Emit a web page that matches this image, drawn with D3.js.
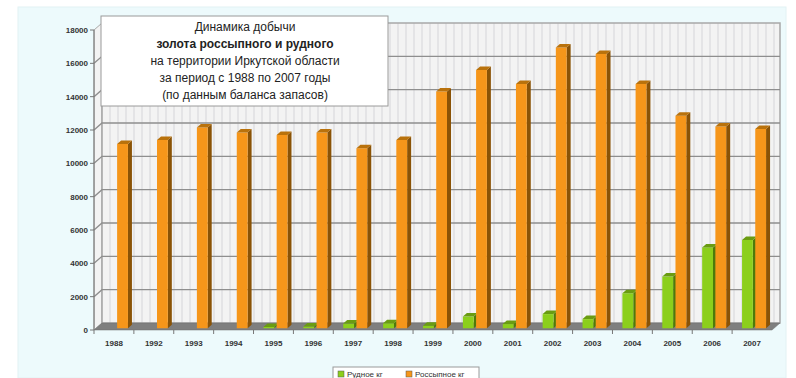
<!DOCTYPE html>
<html>
<head>
<meta charset="utf-8">
<script src="https://cdn.jsdelivr.net/npm/d3@7"></script>
<style>
  body { margin: 0; background: #fff; }
  text { font-family: "Liberation Sans", Arial, sans-serif; }
</style>
</head>
<body>
<script>
const width = 796;
const height = 378;

// data
const years = ["1988","1992","1993","1994","1995","1996","1997","1998","1999","2000","2001","2002","2003","2004","2005","2006","2007"];
const ore = [0, 0, 0, 0, 80, 100, 280, 300, 150, 700, 250, 850, 550, 2100, 3100, 4850, 5300];
const placer = [11050, 11300, 12050, 11750, 11600, 11750, 10800, 11300, 14200, 15500, 14650, 16850, 16450, 14650, 12750, 12100, 11950];
const yTicks = [0, 2000, 4000, 6000, 8000, 10000, 12000, 14000, 16000, 18000];
const seriesNames = ["Рудное кг", "Россыпное кг"];
const titleLines = ["Динамика добычи", "золота россыпного и рудного", "на территории Иркутской области", "за период с 1988 по 2007 годы", "(по данным баланса запасов)"];

const svg = d3.select("body").append("svg")
  .attr("width", width)
  .attr("height", height);

// depth of the 3d box
const DX = 8, DY = 7;
const x0 = 94, x1 = 772;

const x = d3.scaleBand().domain(years).range([x0, x1]);
const y = d3.scaleLinear().domain([0, 18000]).range([330, 30]);
const inner = d3.scaleBand().domain([0, 1]).range([-12, 12]).paddingInner(0.18);

// project point at depth z (0 = front, 1 = back)
const P = (px, py, z) => [px + DX * z, py - DY * z];
const poly = pts => "M" + pts.map(p => p.join(",")).join("L") + "Z";

// outer background
svg.append("rect")
  .attr("x", 18).attr("y", 7).attr("width", 768).attr("height", 371)
  .attr("fill", "#edfafc").attr("stroke", "#e2f2f4");

const defs = svg.append("defs");
const pat = defs.append("pattern")
  .attr("id", "stripes").attr("patternUnits", "userSpaceOnUse")
  .attr("width", 8).attr("height", 8);
pat.append("rect").attr("width", 8).attr("height", 8).attr("fill", "#f3f3f3");
pat.append("rect").attr("x", 5).attr("width", 2).attr("height", 8).attr("fill", "#e4e4e6");

// side wall
svg.append("path")
  .attr("d", poly([P(x0, y(18000), 0), P(x0, y(18000), 1), P(x0, y(0), 1), P(x0, y(0), 0)]))
  .attr("fill", "url(#stripes)").attr("stroke", "#a8a8a8");

// back wall
svg.append("path")
  .attr("d", poly([P(x0, y(18000), 1), P(x1, y(18000), 1), P(x1, y(0), 1), P(x0, y(0), 1)]))
  .attr("fill", "url(#stripes)").attr("stroke", "#a8a8a8").attr("stroke-width", 1.5);

// gridlines
const grid = svg.append("g");
yTicks.slice(1, -1).forEach(t => {
  const a = P(x0, y(t), 0), b = P(x0, y(t), 1), c = P(x1, y(t), 1);
  grid.append("path")
    .attr("d", "M" + a + "L" + b + "L" + c)
    .attr("fill", "none").attr("stroke", "#8e8e8e").attr("stroke-width", 1.4);
});

// floor
svg.append("path")
  .attr("d", poly([P(x0, y(0), 0), P(x1, y(0), 0), P(x1, y(0), 1), P(x0, y(0), 1)]))
  .attr("fill", "#7f7f7f").attr("stroke", "#6e6e6e").attr("stroke-width", 0.5);

// bars
const styles = [
  { front: "#8ccf1c", side: "#4e7a0a", top: "#6a9c12" },
  { front: "#f6961a", side: "#8a5306", top: "#b9720c" }
];
const z0 = 0.25, z1 = 0.75;

const bars = [];
years.forEach((yr, i) => {
  [ore[i], placer[i]].forEach((v, s) => bars.push({ yr, v, s }));
});

const gBars = svg.append("g");
bars.forEach(d => {
  if (d.v <= 0) return;
  const c = x(d.yr) + x.bandwidth() / 2;
  const l = c + inner(d.s), r = l + inner.bandwidth();
  const yt = y(d.v), yb = y(0);
  const st = styles[d.s];
  const g = gBars.append("g");
  // side
  g.append("path")
    .attr("d", poly([P(r, yt, z0), P(r, yt, z1), P(r, yb, z1), P(r, yb, z0)]))
    .attr("fill", st.side);
  // front
  g.append("path")
    .attr("d", poly([P(l, yt, z0), P(r, yt, z0), P(r, yb, z0), P(l, yb, z0)]))
    .attr("fill", st.front);
  // top
  g.append("path")
    .attr("d", poly([P(l, yt, z0), P(r, yt, z0), P(r, yt, z1), P(l, yt, z1)]))
    .attr("fill", st.top);
});

// y axis
svg.append("line")
  .attr("x1", x0).attr("x2", x0).attr("y1", y(18000)).attr("y2", y(0))
  .attr("stroke", "#777");
const yAxis = svg.append("g");
yTicks.forEach(t => {
  yAxis.append("line")
    .attr("x1", x0 - 4).attr("x2", x0).attr("y1", y(t)).attr("y2", y(t))
    .attr("stroke", "#777");
  yAxis.append("text")
    .attr("x", x0 - 6).attr("y", y(t) + 3)
    .attr("text-anchor", "end")
    .attr("font-size", 8).attr("font-weight", "bold").attr("fill", "#333")
    .text(t);
});

// x axis ticks and labels
const xAxis = svg.append("g");
years.forEach(yr => {
  const bx = x(yr);
  xAxis.append("line")
    .attr("x1", bx).attr("x2", bx).attr("y1", y(0)).attr("y2", y(0) + 4)
    .attr("stroke", "#777");
  xAxis.append("text")
    .attr("x", bx + x.bandwidth() / 2).attr("y", 346)
    .attr("text-anchor", "middle")
    .attr("font-size", 8).attr("font-weight", "bold").attr("fill", "#333")
    .text(yr);
});

// title box
svg.append("rect")
  .attr("x", 101).attr("y", 16).attr("width", 287).attr("height", 90)
  .attr("fill", "#fff").attr("stroke", "#9a9a9a");
titleLines.forEach((t, i) => {
  svg.append("text")
    .attr("x", 245).attr("y", 31 + i * 17)
    .attr("text-anchor", "middle")
    .attr("font-size", 12)
    .attr("font-weight", i === 1 ? "bold" : "normal")
    .attr("fill", "#222")
    .text(t);
});

// legend
const leg = svg.append("g").attr("transform", "translate(333,367)");
leg.append("rect").attr("width", 146).attr("height", 16)
  .attr("fill", "#fff").attr("stroke", "#9a9a9a");
seriesNames.forEach((n, i) => {
  const gx = 5 + i * 68;
  leg.append("rect").attr("x", gx).attr("y", 4).attr("width", 6).attr("height", 6)
    .attr("fill", styles[i].front).attr("stroke", "#555").attr("stroke-width", 0.5);
  leg.append("text").attr("x", gx + 9).attr("y", 10)
    .attr("font-size", 8).attr("fill", "#333").text(n);
});
</script>
</body>
</html>
